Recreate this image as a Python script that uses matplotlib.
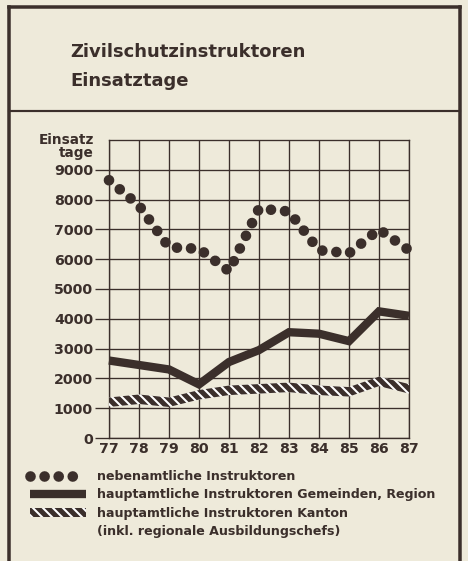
import matplotlib
matplotlib.use("Agg")
import matplotlib.pyplot as plt
from matplotlib.lines import Line2D
from matplotlib.patches import Patch

# colours of the scanned page
bg = "#eeeada"
dark = "#3b2f2b"

years = [77, 78, 79, 80, 81, 82, 83, 84, 85, 86, 87]

# Einsatztage per year
nebenamtlich = [8650, 7800, 6400, 6350, 5600, 7700, 7600, 6300, 6200, 7000, 6300]
haupt_gemeinden = [2600, 2450, 2300, 1800, 2550, 2950, 3550, 3500, 3250, 4250, 4100]
haupt_kanton = [1200, 1300, 1200, 1450, 1600, 1650, 1700, 1600, 1550, 1900, 1650]

ytick_values = list(range(0, 10000, 1000))
legend_labels = ["nebenamtliche Instruktoren",
                 "hauptamtliche Instruktoren Gemeinden, Region",
                 "hauptamtliche Instruktoren Kanton",
                 "(inkl. regionale Ausbildungschefs)"]

plt.rcParams["font.family"] = ["DejaVu Sans"]
plt.rcParams["hatch.linewidth"] = 3.0
plt.rcParams["hatch.color"] = dark

fig = plt.figure(figsize=(3.9, 4.675), dpi=120, facecolor=bg)
ax = fig.add_axes([109 / 468, 1 - 438 / 561, 300 / 468, 298 / 561])
ax.set_facecolor(bg)

band = 160  # half thickness of the hatched band, in Einsatztage
kanton_lo = [v - band for v in haupt_kanton]
kanton_hi = [v + band for v in haupt_kanton]
hatch = "\\\\\\\\"

dot_style = dict(color=dark, linewidth=6.4, linestyle=(0, (0.001, 1.32)),
                 dash_capstyle="round")
solid_style = dict(color=dark, linewidth=5, solid_joinstyle="miter",
                   solid_capstyle="butt")

ax.fill_between(years, kanton_lo, kanton_hi, facecolor="white",
                edgecolor=dark, hatch=hatch, linewidth=0, zorder=3)
ax.plot(years, haupt_gemeinden, clip_on=False, zorder=4, **solid_style)
ax.plot(years, nebenamtlich, clip_on=False, zorder=5, **dot_style)

ax.set_xlim(77, 87)
ax.set_ylim(0, 10000)
ax.set_xticks(years)
ax.set_xticklabels([str(y) for y in years])
ax.set_yticks(ytick_values)
ax.set_yticklabels([str(v) for v in ytick_values])
ax.set_axisbelow(True)
ax.grid(True, color=dark, linewidth=0.8)
for s in ax.spines.values():
    s.set_color(dark)
    s.set_linewidth(0.8)
ax.tick_params(axis="y", length=8.4, width=0.8, color=dark, pad=1.2,
               labelsize=8.5, labelcolor=dark)
ax.tick_params(axis="x", length=0, pad=2.5, labelsize=8.5, labelcolor=dark)
for lab in ax.get_xticklabels() + ax.get_yticklabels():
    lab.set_fontweight("bold")

# axis caption
fig.text(94 / 468, 1 - 133 / 561, "Einsatz\ntage", ha="right", va="top",
         ma="right", fontsize=8.2, fontweight="bold", color=dark,
         linespacing=0.92)

# title block
fig.text(70 / 468, 1 - 57 / 561, "Zivilschutzinstruktoren", va="baseline",
         fontsize=10.8, fontweight="bold", color=dark)
fig.text(70 / 468, 1 - 86 / 561, "Einsatztage", va="baseline",
         fontsize=10.8, fontweight="bold", color=dark)

# frame of the newspaper box
frame_lw = 2.1
fig.add_artist(Line2D([9 / 468, 9 / 468], [0, 1 - 7 / 561], color=dark,
                      lw=frame_lw, transform=fig.transFigure))
fig.add_artist(Line2D([460 / 468, 460 / 468], [0, 1 - 7 / 561], color=dark,
                      lw=frame_lw, transform=fig.transFigure))
fig.add_artist(Line2D([9 / 468, 460 / 468], [1 - 7 / 561, 1 - 7 / 561],
                      color=dark, lw=frame_lw, transform=fig.transFigure,
                      solid_capstyle="projecting"))
fig.add_artist(Line2D([9 / 468, 460 / 468], [1 - 111 / 561, 1 - 111 / 561],
                      color=dark, lw=1.3, transform=fig.transFigure))

# legend
handles = [Line2D([], [], **dot_style),
           Line2D([], [], **solid_style),
           Patch(facecolor="white", edgecolor=dark, hatch=hatch, linewidth=0),
           Line2D([], [], linestyle="none")]
leg = fig.legend(handles, legend_labels, loc="upper left",
                 bbox_to_anchor=(30 / 468, 1 - 470 / 561), frameon=False,
                 borderpad=0, borderaxespad=0,
                 handlelength=4.4, handletextpad=0.9, labelspacing=0.42,
                 prop=dict(weight="bold", size=7.6))
for t in leg.get_texts():
    t.set_color(dark)

fig.savefig("out.png", dpi=120, facecolor=bg)
